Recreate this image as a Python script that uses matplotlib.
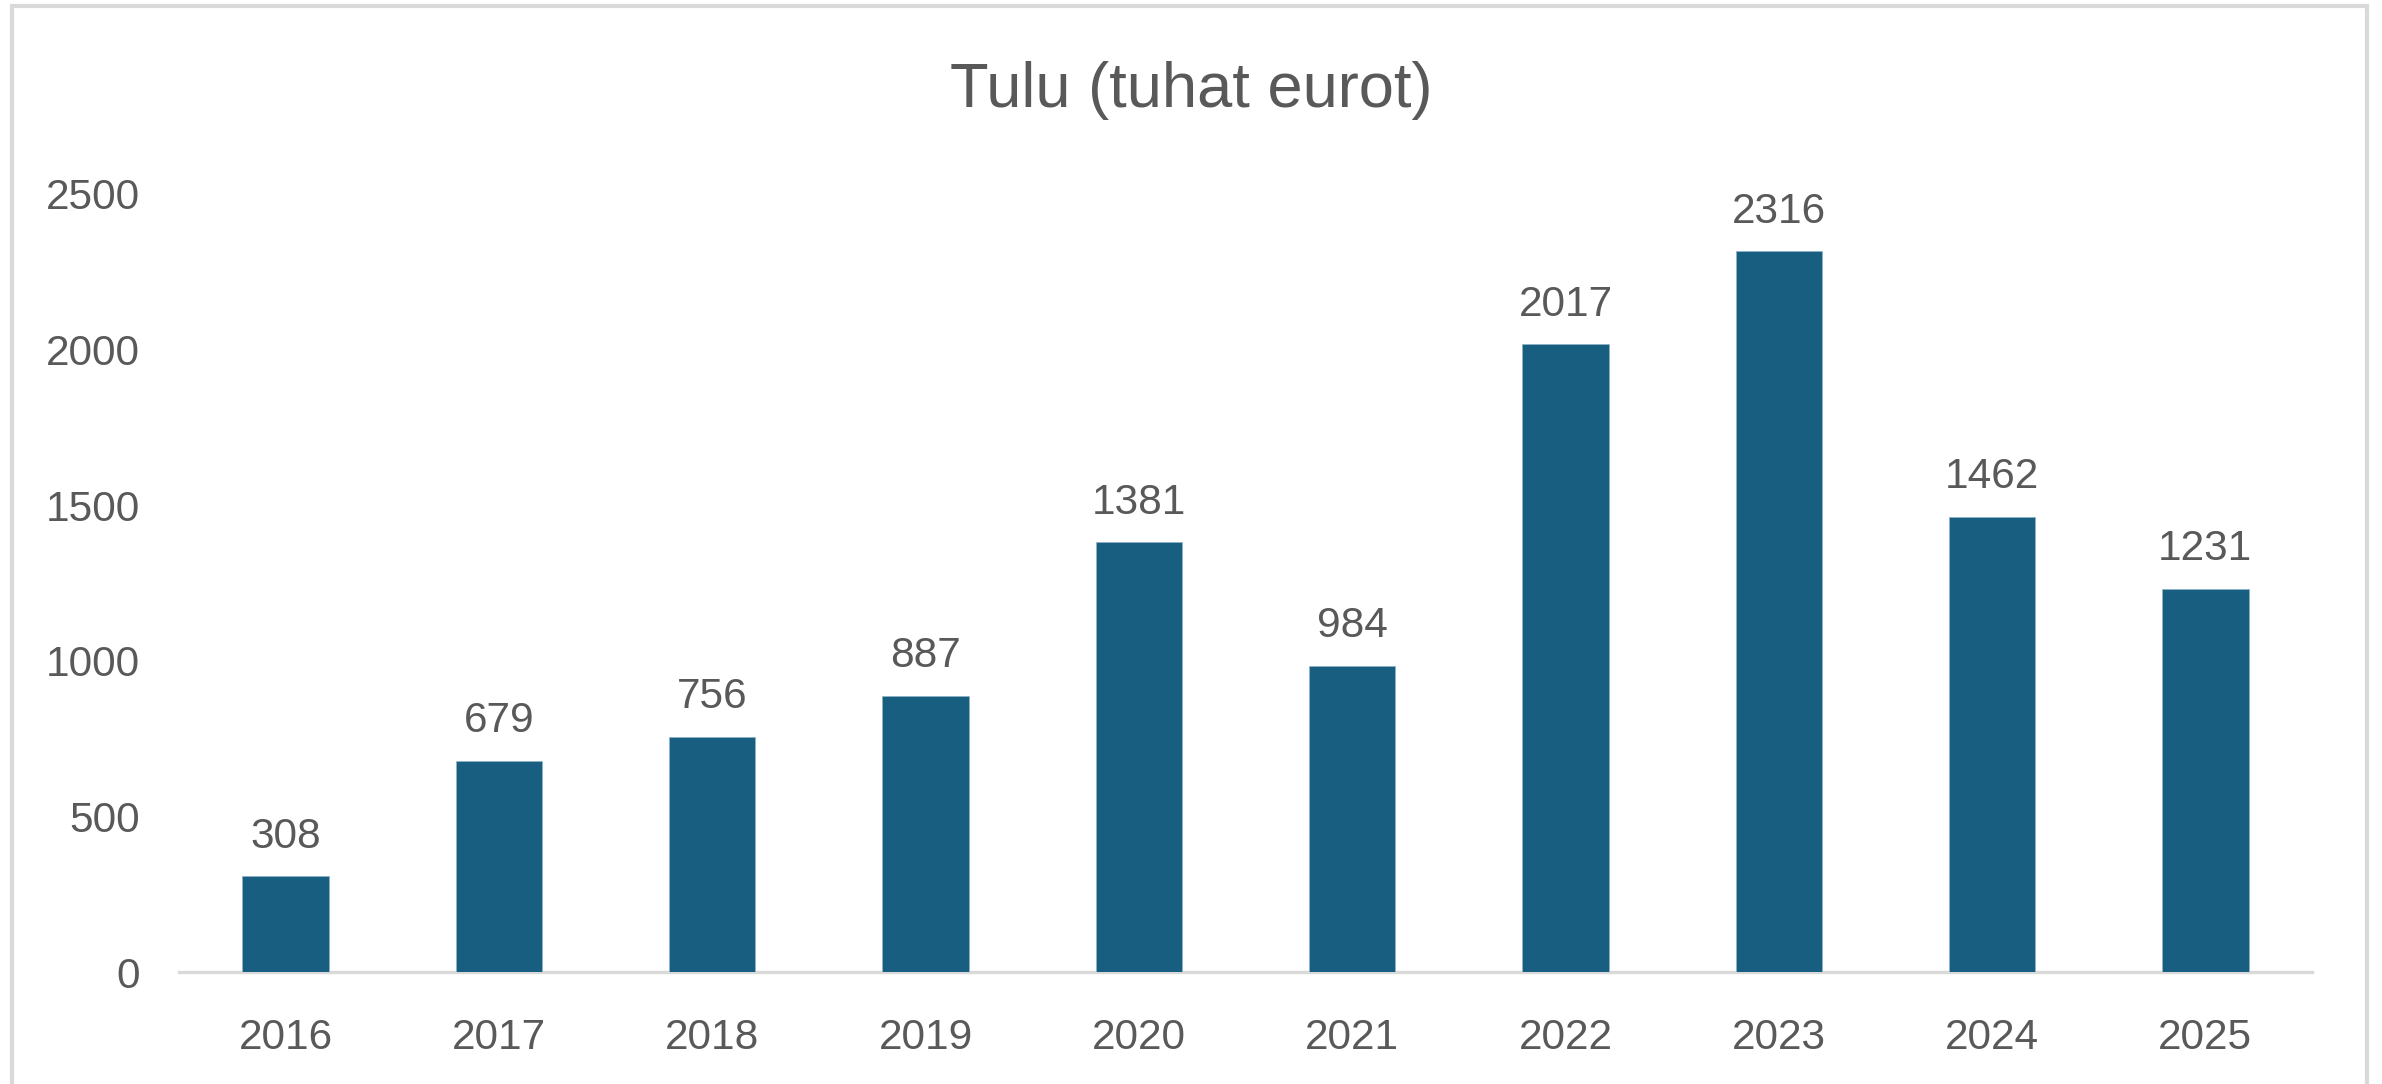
import matplotlib
matplotlib.use("Agg")
import matplotlib.pyplot as plt
from matplotlib.patches import Rectangle

years = ["2016", "2017", "2018", "2019", "2020", "2021", "2022", "2023", "2024", "2025"]
values = [308, 679, 756, 887, 1381, 984, 2017, 2316, 1462, 1231]
yticks = [0, 500, 1000, 1500, 2000, 2500]
title = "Tulu (tuhat eurot)"

W, H, DPI = 2382, 1084, 100
fig = plt.figure(figsize=(W / DPI, H / DPI), dpi=DPI)
fig.patch.set_facecolor("white")

# chart border (bottom edge runs off the image)
fig.patches.append(Rectangle((12 / W, -0.05), (2367 - 12) / W, 1.05 - 6 / H,
                             transform=fig.transFigure, fill=False,
                             edgecolor="#d9d9d9", linewidth=3.0))

left, right, top, bottom = 179, 2312, 194, 972
ax = fig.add_axes([left / W, 1 - bottom / H, (right - left) / W, (bottom - top) / H])

text_color = "#595959"
bar_color = "#175E80"
font = ["Liberation Sans", "DejaVu Sans"]

x = range(len(years))
bars = ax.bar(x, values, width=0.405, color=bar_color, edgecolor="#8fb3c7",
              linewidth=0.6, zorder=3)
ax.set_xlim(-0.5, len(years) - 0.5)
ax.set_ylim(0, 2500)
ax.set_yticks(yticks)
ax.set_yticklabels([str(t) for t in yticks])
ax.set_xticks(list(x))
ax.set_xticklabels(years)

for s in ["top", "right", "left"]:
    ax.spines[s].set_visible(False)
ax.spines["bottom"].set_color("#d9d9d9")
ax.spines["bottom"].set_linewidth(2.4)
ax.spines["bottom"].set_zorder(2)
ax.tick_params(axis="both", length=0, colors=text_color, labelsize=30.5)
ax.tick_params(axis="y", pad=28)
ax.tick_params(axis="x", pad=33)
for lab in ax.get_xticklabels() + ax.get_yticklabels():
    lab.set_fontfamily(font)

for xi, v in zip(x, values):
    ax.annotate(str(v), (xi, v), xytext=(0, 28.5), textcoords="offset points",
                ha="center", va="center", fontsize=30.5, color=text_color,
                family=font, annotation_clip=False)

fig.text(1191 / W, 1 - 91 / H, title, ha="center", va="center",
         fontsize=45.5, color=text_color, family=font)

fig.savefig("out.png", dpi=DPI)
